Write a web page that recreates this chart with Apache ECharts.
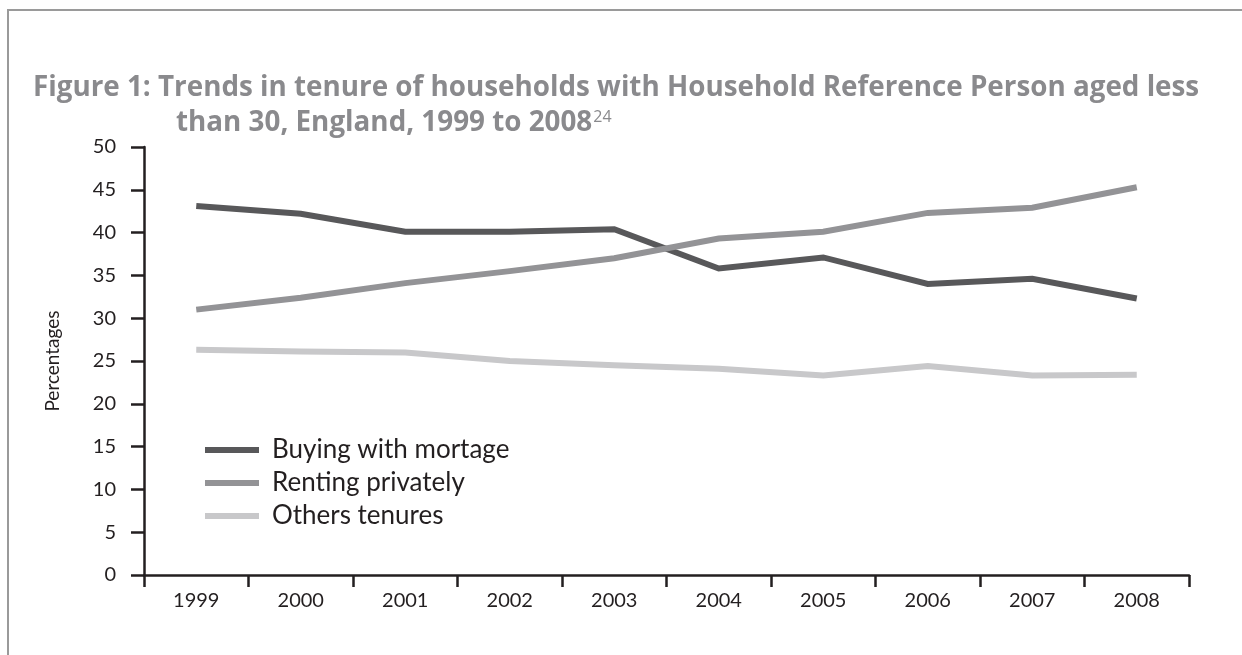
<!DOCTYPE html>
<html>
<head>
<meta charset="utf-8">
<script src="https://cdn.jsdelivr.net/npm/echarts@6/dist/echarts.min.js"></script>
<style>
  html, body { margin: 0; padding: 0; background: #fff; }
  #chart { width: 1242px; height: 655px; }
</style>
</head>
<body>
<div id="chart"></div>
<script>
(function() {
  'use strict';

  var years = ['1999', '2000', '2001', '2002', '2003', '2004', '2005', '2006', '2007', '2008'];
  var buyingWithMortgage = [43.1, 42.2, 40.1, 40.1, 40.4, 35.8, 37.1, 34.0, 34.6, 32.3];
  var rentingPrivately = [31.0, 32.4, 34.1, 35.5, 37.0, 39.3, 40.1, 42.3, 42.9, 45.3];
  var otherTenures = [26.3, 26.1, 26.0, 25.0, 24.5, 24.1, 23.3, 24.4, 23.3, 23.4];
  var seriesNames = ['Buying with mortage', 'Renting privately', 'Others tenures'];
  var seriesColors = ['#58585a', '#939396', '#c8c8ca'];

  var axisColor = '#231f20';
  var bodyFont = 'Lato';
  var titleColor = '#8a8a8d';

  function lineSeries(name, data, color) {
    return {
      name: name,
      type: 'line',
      data: data,
      symbol: 'none',
      color: color,
      lineStyle: { width: 6, color: color, cap: 'butt', join: 'miter' }
    };
  }

  var chart = echarts.init(document.getElementById('chart'), null, { renderer: 'canvas' });

  var options = {
    animation: false,
    backgroundColor: '#fff',
    title: [{
      text: 'Figure 1: Trends in tenure of households with Household Reference Person aged less',
      left: 28,
      top: 69,
      textStyle: {
        fontFamily: 'Open Sans',
        fontWeight: 'bold',
        fontSize: 27.8,
        color: titleColor
      }
    }, {
      text: 'than 30, England, 1999 to 2008{sup|24}',
      left: 171,
      top: 104,
      textStyle: {
        fontFamily: 'Open Sans',
        fontWeight: 'bold',
        fontSize: 27.8,
        color: titleColor,
        rich: {
          sup: {
            fontFamily: 'Open Sans',
            fontWeight: 'normal',
            fontSize: 16,
            color: titleColor,
            verticalAlign: 'top',
            padding: [0, 0, 12, 1]
          }
        }
      }
    }],
    legend: {
      orient: 'vertical',
      left: 200,
      top: 432,
      icon: 'rect',
      itemWidth: 54,
      itemHeight: 6,
      itemGap: 7,
      data: seriesNames,
      textStyle: {
        fontFamily: bodyFont,
        fontSize: 26,
        color: axisColor,
        padding: [0, 0, 0, 8]
      }
    },
    graphic: [{
      type: 'polyline',
      shape: { points: [[8, 655], [8, 10], [1242, 10]] },
      style: { stroke: '#9a9a9a', lineWidth: 2, fill: null }
    }],
    grid: {
      left: 144,
      right: 53,
      top: 147,
      bottom: 80,
      containLabel: false
    },
    xAxis: {
      type: 'category',
      data: years,
      boundaryGap: true,
      axisLine: { lineStyle: { color: axisColor, width: 2.5 } },
      axisTick: { show: true, length: 12, lineStyle: { color: axisColor, width: 2.5 } },
      axisLabel: {
        fontFamily: bodyFont,
        fontSize: 20,
        color: axisColor,
        margin: 16
      },
      splitLine: { show: false }
    },
    yAxis: {
      type: 'value',
      min: 0,
      max: 50,
      interval: 5,
      name: 'Percentages',
      nameLocation: 'middle',
      nameGap: 82,
      nameTextStyle: { fontFamily: bodyFont, fontSize: 19, color: axisColor },
      axisLine: { show: true, lineStyle: { color: axisColor, width: 2.5 } },
      axisTick: { show: true, length: 13, lineStyle: { color: axisColor, width: 2.5 } },
      axisLabel: {
        fontFamily: bodyFont,
        fontSize: 20,
        color: axisColor,
        margin: 28
      },
      splitLine: { show: false }
    },
    series: [
      lineSeries(seriesNames[0], buyingWithMortgage, seriesColors[0]),
      lineSeries(seriesNames[1], rentingPrivately, seriesColors[1]),
      lineSeries(seriesNames[2], otherTenures, seriesColors[2])
    ]
  };

  chart.setOption(options);
})();
</script>
</body>
</html>
